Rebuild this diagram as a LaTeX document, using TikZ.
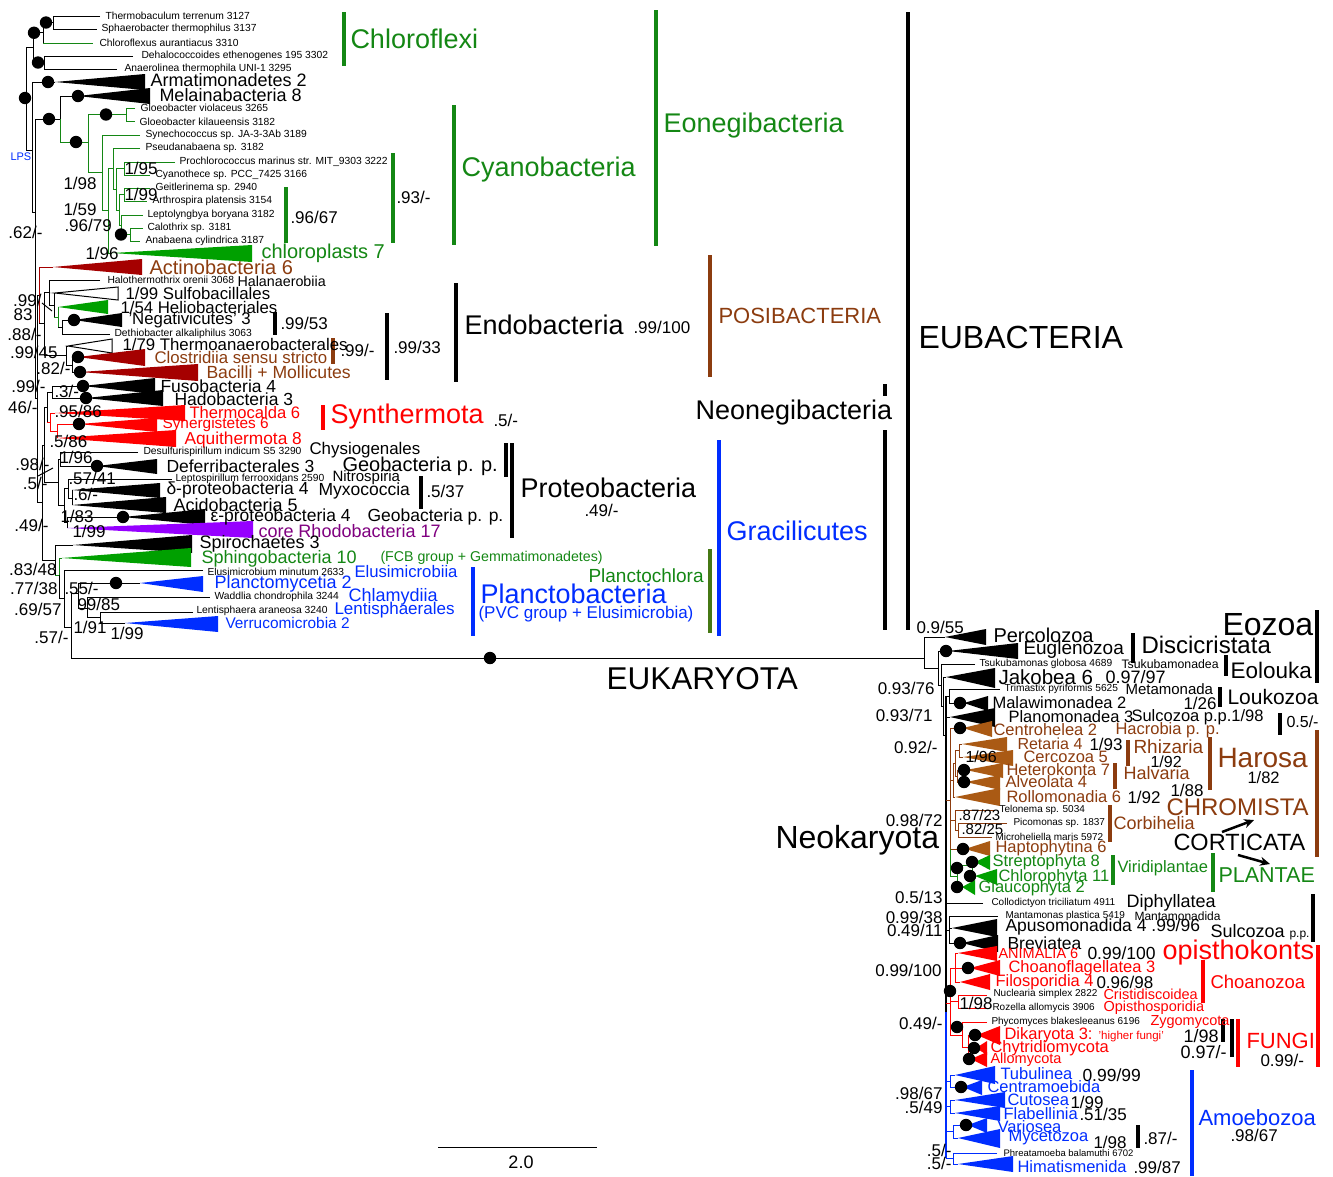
\documentclass[tikz,border=0pt]{standalone}
\usepackage{fontspec}
\setmainfont{Liberation Sans}
\usetikzlibrary{arrows.meta}
\definecolor{grn}{RGB}{20,135,20}
\definecolor{gtri}{RGB}{0,160,0}
\definecolor{brn}{RGB}{140,60,15}
\definecolor{btri}{RGB}{170,90,20}
\definecolor{dred}{RGB}{165,0,0}
\definecolor{rd}{RGB}{255,0,0}
\definecolor{blu}{RGB}{0,45,255}
\definecolor{purt}{RGB}{128,0,128}
\definecolor{purtri}{RGB}{150,0,255}
\definecolor{olv}{RGB}{70,120,20}
\newcommand\tri[6][black]{\fill[#1] (#2,#3) -- (#4,#5) -- (#4,#6) -- cycle;}
\newcommand\dt[2]{\fill (#1,#2) circle (6.2pt);}
\newcommand\lab[4][black]{\node[anchor=west,inner sep=0,text=#1,font=\fontsize{#2}{#2}\selectfont] at #3 {#4};}
\newcommand\rlab[4][black]{\node[anchor=east,inner sep=0,text=#1,font=\fontsize{#2}{#2}\selectfont] at #3 {#4};}
\begin{document}
\begin{tikzpicture}[x=1pt,y=-1pt,line width=1pt,
  gline/.style={draw=grn},
  rline/.style={draw=rd},
  drline/.style={draw=dred},
  bline/.style={draw=blu},
  brline/.style={draw=brn},
  spine/.style={line width=1.8pt},
  bar/.style={line width=3.5pt}]
\useasboundingbox[fill=white] (0,0) rectangle (1333,1176);

% ================= BACTERIA branches =================
\draw (100,16) -- (53,16) -- (53,29) -- (97,29);
\draw (53,22.5) -- (43,22.5) -- (43,43);
\draw[gline] (43,43) -- (93,43);
\draw (43,32.75) -- (33,32.75) -- (33,62.5) -- (44,62.5);
\draw (133,56) -- (44,56) -- (44,69) -- (117,69);
\draw (33,47.6) -- (26,47.6) -- (26,150) -- (32,150);
\draw (55,82) -- (32,82) -- (32,212) -- (35,212);
\draw (60,119) -- (35,119) -- (35,398) -- (37,398);
\draw (78,96) -- (60,96) -- (60,119);
\draw[gline] (60,119) -- (60,142) -- (88,142);
% cyanobacteria
\draw[gline] (126,114.5) -- (88,114.5) -- (88,172) -- (102,172);
\draw[gline] (135,108) -- (126,108) -- (126,121) -- (135,121);
\draw[gline] (140,135) -- (102,135) -- (102,210) -- (108,210);
\draw[gline] (113,168) -- (108,168) -- (108,253) -- (112,253);
\draw[gline] (140,148) -- (113,148) -- (113,189) -- (116,189);
\draw[gline] (124,168.5) -- (116,168.5) -- (116,210) -- (119,210);
\draw[gline] (175,162) -- (124,162) -- (124,175) -- (150,175);
\draw[gline] (124,194.5) -- (119,194.5) -- (119,225) -- (121,225);
\draw[gline] (150,188) -- (124,188) -- (124,201) -- (147,201);
\draw[gline] (143,215) -- (121,215) -- (121,234.5) -- (130,234.5);
\draw[gline] (143,228) -- (130,228) -- (130,241) -- (140,241);
% posibacteria
\draw (39,295) -- (37,295) -- (37,502) -- (42,502);
\draw[drline] (53,267) -- (39,267) -- (39,323);
\draw (39,323) -- (44,323);
\draw (49,292) -- (44,292) -- (44,355) -- (66,355);
\draw (100,280) -- (49,280) -- (49,305) -- (54,305);
\draw (55,293) -- (54,293) -- (54,317);
\draw[gline] (54,317) -- (58,317);
\draw[gline] (58,307) -- (58,327);
\draw (58,327) -- (62,327);
\draw (74,320) -- (62,320) -- (62,334) -- (110,334);
\draw (68,346) -- (66,346) -- (66,365) -- (72,365);
\draw (78,357) -- (72,357) -- (72,372) -- (80,372);
\draw (42,303) -- (52,311);
% neonegibacteria
\draw (44,445) -- (42,445) -- (42,560) -- (55,560);
\draw (47,407) -- (44,407) -- (44,482) -- (58,482);
\draw (52,392) -- (47,392) -- (47,422);
\draw[rline] (47,422) -- (50,422);
\draw (83,386) -- (52,386) -- (52,398) -- (86,398);
\draw[rline] (55,413) -- (50,413) -- (50,431) -- (57,431);
\draw[rline] (79,424) -- (57,424) -- (57,438);
\draw (60,459) -- (58,459) -- (58,505) -- (64,505);
\draw (138,452) -- (60,452) -- (60,466) -- (97,466);
\draw (68,488) -- (64,488) -- (64,522) -- (67,522);
\draw (172,479) -- (68,479) -- (68,498) -- (72,498);
\draw (72,490) -- (72,505);
\draw (123,517) -- (67,517) -- (67,528);
\draw (38,476) -- (53,468);
\draw (73,545) -- (55,545) -- (55,575);
\draw[gline] (55,575) -- (59,575) -- (59,558) -- (62,558);
\draw (59,575) -- (59,598) -- (64,598);
\draw (203,570) -- (64,570) -- (64,627) -- (71,627);
\draw (78,593) -- (71,593) -- (71,658) -- (924,658);
\draw (140,583) -- (78,583) -- (78,608) -- (87,608);
\draw (210,597) -- (87,597) -- (87,617) -- (100,617);
\draw (193,612) -- (100,612) -- (100,623) -- (125,623);

% bacterial triangles
\tri{55}{82}{145}{74}{90}
\tri{78}{96}{150}{88}{104}
\tri[gtri]{112}{253}{252}{245}{262}
\tri[dred]{53}{267}{142}{259}{275}
\filldraw[fill=white,draw=black] (55,293) -- (118,287) -- (118,300) -- cycle;
\tri[gtri]{58}{307}{108}{300}{314}
\tri{74}{320}{122}{313}{327}
\filldraw[fill=white,draw=black] (68,346) -- (112,339) -- (112,353) -- cycle;
\tri[dred]{78}{357}{145}{349}{366}
\tri[dred]{80}{372}{198}{364}{381}
\tri{83}{386}{155}{378}{394}
\tri{86}{398}{163}{390}{406}
\tri[rd]{55}{413}{185}{405}{421}
\tri[rd]{79}{424}{157}{418}{432}
\tri[rd]{57}{438}{176}{430}{447}
\tri{97}{466}{157}{459}{474}
\tri{72}{490}{160}{483}{498}
\tri{72}{505}{166}{497}{513}
\tri{123}{517}{205}{509}{525}
\tri[purtri]{67}{528}{253}{521}{538}
\tri{73}{545}{192}{535}{553}
\tri[gtri]{62}{558}{191}{548}{567}
\tri[blu]{140}{583}{203}{576}{592}
\tri[blu]{125}{623}{218}{616}{632}

% bacterial dots
\dt{46}{22.5}\dt{34}{32.75}\dt{38}{62.5}\dt{25}{98}\dt{48}{82}\dt{78}{96}
\dt{49}{119}\dt{76}{142}\dt{106}{114.5}\dt{121}{234.5}\dt{74}{320}
\dt{78}{357}\dt{80}{372}\dt{83}{386}\dt{86}{398}\dt{79}{424}\dt{97}{466}
\dt{123}{517}\dt{116}{583}\dt{490}{658}

% ================= EUKARYOTA branches =================
\draw (945,637) -- (924,637) -- (924,668) -- (938,668);
\draw (946,651) -- (938,651) -- (938,685) -- (941,685);
\draw (975,664) -- (941,664) -- (941,706) -- (943,706);
\draw (946,677) -- (943,677) -- (943,735) -- (946,735);
\draw (949,696) -- (946,696);
\draw[spine] (946,696) -- (946,1012);
\draw[spine,bline] (946,1012) -- (946,1158);
\draw (1000,689) -- (949,689) -- (949,703) -- (964,703);
\draw (950,717) -- (946,717);
\draw[brline] (946,800) -- (950,800);
\draw[brline] (960,728) -- (950,728) -- (950,849) -- (963,849);
\draw[gline] (950,849) -- (950,876) -- (957,876);
\draw[brline] (950,780) -- (953,780);
\draw[brline] (955,763) -- (953,763) -- (953,797) -- (955,797);
\draw[brline] (959,750) -- (955,750) -- (955,776) -- (957,776);
\draw[brline] (962,744) -- (959,744) -- (959,757) -- (963,757);
\draw[brline] (966,770) -- (957,770) -- (957,782) -- (966,782);
\draw[brline] (950,820) -- (955,820);
\draw[brline] (995,810) -- (955,810) -- (955,830) -- (958,830);
\draw[brline] (1007,823) -- (958,823) -- (958,837) -- (992,837);
\draw[gline] (972,865) -- (957,865) -- (957,887) -- (962,887);
\draw[gline] (975,862) -- (972,862) -- (972,876) -- (975,876);
\draw (983,903) -- (946,903);
\draw (949,930) -- (946,930);
\draw (998,916) -- (949,916) -- (949,943) -- (962,943);
\draw (952,928) -- (949,928);
\draw[rline] (946,1003) -- (950,1003);
\draw[rline] (955,968) -- (950,968) -- (950,1035) -- (962,1035);
\draw[rline] (958,953) -- (955,953) -- (955,982) -- (960,982);
\draw[rline] (970,968) -- (955,968);
\draw[rline] (950,1001) -- (958,1001);
\draw[rline] (987,995) -- (958,995) -- (958,1008) -- (987,1008);
\draw[rline] (987,1022) -- (962,1022) -- (962,1047) -- (968,1047);
\draw[rline] (977,1035) -- (968,1035) -- (968,1059) -- (971,1059);
\draw[rline] (968,1048) -- (976,1048);
\draw[bline] (955,1075) -- (950,1075) -- (950,1087) -- (963,1087);
\draw[bline] (946,1081) -- (950,1081);
\draw[bline] (955,1100) -- (950,1100) -- (950,1113) -- (955,1113);
\draw[bline] (946,1106) -- (950,1106);
\draw[bline] (968,1125) -- (953,1125) -- (953,1138) -- (958,1138);
\draw[bline] (946,1131) -- (953,1131);
\draw[bline] (997,1153) -- (953,1153) -- (953,1164) -- (958,1164);
\draw[bline] (946,1158) -- (953,1158);

% eukaryote triangles
\tri{945}{637}{986}{629}{645}
\tri{948}{651}{1018}{643}{659}
\tri{946}{677}{995}{668}{688}
\tri{964}{703}{988}{696}{711}
\tri{950}{717}{995}{708}{727}
\tri[btri]{963}{728}{992}{721}{737}
\tri[btri]{962}{744}{1007}{737}{752}
\tri[btri]{963}{757}{1013}{750}{766}
\tri[btri]{966}{770}{1003}{763}{778}
\tri[btri]{966}{782}{1000}{775}{790}
\tri[btri]{955}{797}{1000}{788}{806}
\tri[btri]{965}{849}{990}{841}{856}
\tri[gtri]{975}{862}{990}{855}{870}
\tri[gtri]{975}{876}{997}{869}{885}
\tri[gtri]{962}{887}{975}{880}{895}
\tri{952}{928}{997}{919}{937}
\tri{962}{943}{998}{935}{952}
\tri[rd]{958}{953}{997}{946}{961}
\tri[rd]{970}{968}{1000}{960}{976}
\tri[rd]{960}{982}{990}{974}{990}
\tri[rd]{977}{1035}{1000}{1026}{1045}
\tri[rd]{976}{1048}{987}{1041}{1055}
\tri[rd]{971}{1059}{987}{1052}{1067}
\tri[blu]{955}{1075}{995}{1066}{1084}
\tri[blu]{963}{1087}{982}{1080}{1095}
\tri[blu]{955}{1100}{1005}{1092}{1108}
\tri[blu]{955}{1113}{1000}{1106}{1121}
\tri[blu]{968}{1125}{987}{1118}{1133}
\tri[blu]{958}{1138}{1000}{1129}{1148}
\tri[blu]{958}{1164}{1013}{1156}{1172}

% eukaryote dots
\dt{946}{651}\dt{960}{703}\dt{960}{728}\dt{964}{770}\dt{964}{782}\dt{963}{849}
\dt{957}{868}\dt{972}{862}\dt{970}{876}\dt{957}{887}\dt{960}{943}\dt{968}{968}
\dt{950}{991}\dt{957}{1027}\dt{975}{1035}\dt{974}{1048}\dt{969}{1059}
\dt{961}{1087}\dt{966}{1125}

% ================= bars =================
\draw[bar,grn] (344,12) -- (344,66);
\draw[bar,grn] (286,187) -- (286,243);
\draw[bar,grn] (393,153) -- (393,243);
\draw[bar,grn] (454,105) -- (454,245);
\draw[bar,grn] (656,10) -- (656,246);
\draw[bar] (275,312) -- (275,335);
\draw[bar,brn] (333,338) -- (333,364);
\draw[bar] (387,313) -- (387,380);
\draw[bar] (456,283) -- (456,382);
\draw[bar,brn] (710,255) -- (710,377);
\draw[bar,rd] (323,405) -- (323,430);
\draw[bar] (506,443) -- (506,477);
\draw[bar] (512,443) -- (512,538);
\draw[bar] (421,476) -- (421,509);
\draw[bar,blu] (473,567) -- (473,636);
\draw[bar,olv] (710,549) -- (710,633);
\draw[bar,blu] (719,440) -- (719,636);
\draw[bar] (885,384) -- (885,396);
\draw[bar] (885,430) -- (885,630);
\draw[bar] (908,12) -- (908,630);
\draw[bar] (1133,633) -- (1133,663);
\draw[bar] (1226,655) -- (1226,676);
\draw[bar] (1317,610) -- (1317,683);
\draw[bar] (1220,687) -- (1220,707);
\draw[bar] (1280,713) -- (1280,735);
\draw[bar,brn] (1128,740) -- (1128,766);
\draw[bar,brn] (1115,763) -- (1115,789);
\draw[bar,brn] (1210,737) -- (1210,790);
\draw[bar,brn] (1317,730) -- (1317,857);
\draw[bar,brn] (1110,805) -- (1110,842);
\draw[bar,grn] (1113,855) -- (1113,885);
\draw[bar,grn] (1213,853) -- (1213,892);
\draw[bar] (1313,894) -- (1313,942);
\draw[bar,rd] (1318,945) -- (1318,1067);
\draw[bar,rd] (1203,960) -- (1203,1003);
\draw[bar] (1223,1019) -- (1223,1042);
\draw[bar] (1232,1019) -- (1232,1057);
\draw[bar,rd] (1238,1019) -- (1238,1067);
\draw[bar,blu] (1192,1070) -- (1192,1176);
\draw[bar] (1138,1125) -- (1138,1148);
\draw[line width=2.5pt,-{Stealth[length=10pt,width=9pt]}] (1222,832) -- (1254,820);
\draw[line width=2.5pt,-{Stealth[length=10pt,width=9pt]}] (1238,855) -- (1270,864);
% scale bar
\draw (438,1147) -- (597,1147);
\node[inner sep=0,font=\fontsize{18}{18}\selectfont] at (521,1162) {2.0};

% ================= bacterial labels =================
\lab{10.3}{(105,16)}{Thermobaculum terrenum 3127}
\lab{10.3}{(101,29)}{Sphaerobacter thermophilus 3137}
\lab{10.3}{(99,43)}{Chloroflexus aurantiacus 3310}
\lab{10.3}{(141,56)}{Dehalococcoides ethenogenes 195 3302}
\lab{10.3}{(124,69)}{Anaerolinea thermophila UNI-1 3295}
\lab{18}{(150,80)}{Armatimonadetes 2}
\lab{18}{(159,95)}{Melainabacteria 8}
\lab{10.3}{(140,108)}{Gloeobacter violaceus 3265}
\lab{10.3}{(139,122)}{Gloeobacter kilaueensis 3182}
\lab{10.3}{(145,135)}{Synechococcus sp. JA-3-3Ab 3189}
\lab{10.3}{(145,148)}{Pseudanabaena sp. 3182}
\lab{10.3}{(179,162)}{Prochlorococcus marinus str. MIT\_9303 3222}
\lab{10.3}{(155,175)}{Cyanothece sp. PCC\_7425 3166}
\lab{10.3}{(155,188)}{Geitlerinema sp. 2940}
\lab{10.3}{(152,201)}{Arthrospira platensis 3154}
\lab{10.3}{(147,215)}{Leptolyngbya boryana 3182}
\lab{10.3}{(147,228)}{Calothrix sp. 3181}
\lab{10.3}{(145,241)}{Anabaena cylindrica 3187}
\lab[grn]{20}{(261,253)}{chloroplasts 7}
\lab[brn]{20}{(149,267)}{Actinobacteria 6}
\lab{10.3}{(107,280)}{Halothermothrix orenii 3068}
\lab{14.3}{(237,281)}{Halanaerobiia}
\lab{16.8}{(125,293)}{1/99 Sulfobacillales}
\lab{16.8}{(120,307)}{1/54 Heliobacteriales}
\lab{16.8}{(128,320)}{'Negativicutes' 3}
\lab{10.3}{(114,334)}{Dethiobacter alkaliphilus 3063}
\lab{16.8}{(122,344)}{1/79 Thermoanaerobacterales}
\lab[brn]{16.8}{(154,357)}{Clostridiia sensu stricto}
\lab[brn]{17.6}{(206,372)}{Bacilli + Mollicutes}
\lab{17.5}{(160,386)}{Fusobacteria 4}
\lab{17.5}{(174,399)}{Hadobacteria 3}
\lab[rd]{16.6}{(189,413)}{Thermocalda 6}
\lab[rd]{15.4}{(162,425)}{Synergistetes 6}
\lab[rd]{17.3}{(184,440)}{Aquithermota 8}
\lab{10.3}{(143,452)}{Desulfurispirillum indicum S5 3290}
\lab{16.9}{(309,450)}{Chysiogenales}
\lab{17.5}{(166,466)}{Deferribacterales 3}
\lab{20}{(342,466)}{Geobacteria p. p.}
\lab{10.3}{(175,479)}{Leptospirillum ferrooxidans 2590}
\lab{15}{(332,478)}{Nitrospiria}
\lab{17.5}{(166,490)}{δ-proteobacteria 4}
\lab{17.5}{(318,491)}{Myxococcia}
\lab{18}{(173,505)}{Acidobacteria 5}
\lab{17.5}{(210,517)}{ε-proteobacteria 4}
\lab{17.5}{(367,517)}{Geobacteria p. p.}
\lab[purt]{18}{(258,531)}{core Rhodobacteria 17}
\lab{18}{(199,544)}{Spirochaetes 3}
\lab[grn]{18}{(201,559)}{Sphingobacteria 10}
\lab[grn]{14.2}{(380,558)}{(FCB group + Gemmatimonadetes)}
\lab{10.2}{(207,572)}{Elusimicrobium minutum 2633}
\lab[blu]{16.7}{(354,572)}{Elusimicrobiia}
\lab[blu]{18}{(214,584)}{Planctomycetia 2}
\lab{10.3}{(214,597)}{Waddlia chondrophila 3244}
\lab[blu]{18}{(348,597)}{Chlamydiia}
\lab{10.3}{(196,611)}{Lentisphaera araneosa 3240}
\lab[blu]{17}{(334,610)}{Lentisphaerales}
\lab[blu]{15.4}{(225,623)}{Verrucomicrobia 2}
\lab[blu]{11}{(10,157)}{LPS}
% support values (bacteria)
\lab{17}{(63,183)}{1/98}
\lab{17}{(63,209)}{1/59}
\lab{17}{(64,225)}{.96/79}
\lab{17}{(124,168)}{1/95}
\lab{17}{(124,194)}{1/99}
\lab{17}{(85,253)}{1/96}
\rlab{17}{(43,232)}{.62/-}
\rlab{17}{(42,300)}{.99/}
\rlab{17}{(33,315)}{83}
\rlab{17}{(42,334)}{.88/-}
\rlab{17}{(58,352)}{.99/45}
\rlab{17}{(71,368)}{.82/-}
\rlab{17}{(46,386)}{.99/-}
\lab{17}{(54,391)}{.3/-}
\rlab{17}{(38,407)}{46/-}
\lab{17}{(54,411)}{.95/86}
\lab{17}{(49,441)}{.5/86}
\lab{17}{(59,457)}{1/96}
\rlab{17}{(50,464)}{.98/-}
\rlab{17}{(48,483)}{.5/-}
\lab{17}{(68,478)}{.57/41}
\lab{17}{(73,494)}{.6/-}
\lab{17}{(60,516)}{1/83}
\lab{17}{(72,531)}{1/99}
\rlab{17}{(49,525)}{.49/-}
\rlab{17}{(57,569)}{.83/48}
\rlab{17}{(58,588)}{.77/38}
\rlab{17}{(62,609)}{.69/57}
\rlab{17}{(69,637)}{.57/-}
\lab{17}{(64,588)}{.55/-}
\lab{17}{(77,604)}{99/85}
\lab{17}{(73,627)}{1/91}
\lab{17}{(110,633)}{1/99}
% group labels (bacteria)
\lab[grn]{27}{(350,39)}{Chloroflexi}
\lab[grn]{27}{(663,126)}{Eonegibacteria}
\lab[grn]{27}{(461,170)}{Cyanobacteria}
\lab{17}{(396,197)}{.93/-}
\lab{17}{(290,217)}{.96/67}
\lab{17}{(280,323)}{.99/53}
\lab{17}{(340,350)}{.99/-}
\lab{17}{(393,347)}{.99/33}
\lab{27}{(464,325)}{Endobacteria}
\lab{17}{(633,327)}{.99/100}
\lab[brn]{22}{(718,316)}{POSIBACTERIA}
\lab{32}{(918,337)}{EUBACTERIA}
\lab[rd]{27}{(330,417)}{Synthermota}
\lab{17}{(493,420)}{.5/-}
\lab{27}{(695,413)}{Neonegibacteria}
\lab{17}{(426,491)}{.5/37}
\lab{27}{(520,488)}{Proteobacteria}
\lab{17}{(584,510)}{.49/-}
\lab[blu]{27}{(726,531)}{Gracilicutes}
\lab[grn]{19}{(588,576)}{Planctochlora}
\lab[blu]{27}{(480,594)}{Planctobacteria}
\lab[blu]{17}{(478,614)}{(PVC group + Elusimicrobia)}
\lab{31.5}{(606,679)}{EUKARYOTA}
\lab{32}{(775,840)}{Neokaryota}

% ================= eukaryote labels =================
\lab{17}{(916,627)}{0.9/55}
\lab{20}{(993,635)}{Percolozoa}
\lab{19}{(1023,650)}{Euglenozoa}
\lab{24}{(1141,645)}{Discicristata}
\lab{32}{(1222,625)}{Eozoa}
\lab{10.2}{(979,664)}{Tsukubamonas globosa 4689}
\lab{12.3}{(1121,664)}{Tsukubamonadea}
\lab{22.5}{(1230,670)}{Eolouka}
\lab{20.5}{(998,677)}{Jakobea 6}
\lab{18}{(1105,677)}{0.97/97}
\rlab{17}{(935,688)}{0.93/76}
\lab{10.2}{(1004,689)}{Trimastix pyriformis 5625}
\lab{15}{(1125,689)}{Metamonada}
\lab{21}{(1227,697)}{Loukozoa}
\lab{16.5}{(992,703)}{Malawimonadea 2}
\lab{17}{(1183,703)}{1/26}
\rlab{17}{(933,715)}{0.93/71}
\lab{16.5}{(1008,717)}{Planomonadea 3}
\lab{16.5}{(1131,717)}{Sulcozoa p.p.1/98}
\lab{16}{(1286,722)}{0.5/-}
\lab[brn]{16.5}{(993,730)}{Centrohelea 2}
\lab[brn]{16.5}{(1115,730)}{Hacrobia p. p.}
\rlab{17}{(938,747)}{0.92/-}
\lab[brn]{16}{(1017,744)}{Retaria 4}
\lab{17}{(1089,744)}{1/93}
\lab[brn]{19}{(1133,747)}{Rhizaria}
\lab{16}{(1150,762)}{1/92}
\lab[brn]{16.5}{(1023,757)}{Cercozoa 5}
\lab{16}{(965,757)}{1/96}
\lab[brn]{28}{(1217,758)}{Harosa}
\lab{16.5}{(1247,778)}{1/82}
\lab[brn]{16.5}{(1006,770)}{Heterokonta 7}
\lab[brn]{18}{(1123,773)}{Halvaria}
\lab[brn]{16.5}{(1005,782)}{Alveolata 4}
\lab{17}{(1170,790)}{1/88}
\lab[brn]{16.5}{(1006,797)}{Rollomonadia 6}
\lab{17}{(1127,797)}{1/92}
\lab[brn]{24}{(1166,807)}{CHROMISTA}
\lab{10}{(999,810)}{Telonema sp. 5034}
\lab{15}{(958,815)}{.87/23}
\lab{10}{(1013,823)}{Picomonas sp. 1837}
\lab{15}{(961,829)}{.82/25}
\lab{10}{(995,837)}{Microheliella maris 5972}
\lab[brn]{18}{(1113,823)}{Corbihelia}
\rlab{17}{(943,820)}{0.98/72}
\lab{23.5}{(1173,842)}{CORTICATA}
\lab[brn]{16.5}{(995,848)}{Haptophytina 6}
\lab[grn]{16.5}{(992,862)}{Streptophyta 8}
\lab[grn]{16.5}{(998,877)}{Chlorophyta 11}
\lab[grn]{16.5}{(978,888)}{Glaucophyta 2}
\lab[grn]{16.5}{(1117,868)}{Viridiplantae}
\lab[grn]{21.5}{(1218,875)}{PLANTAE}
\rlab{17}{(943,897)}{0.5/13}
\lab{10}{(991,903)}{Collodictyon triciliatum 4911}
\lab{18}{(1126,903)}{Diphyllatea}
\rlab{17}{(943,917)}{0.99/38}
\rlab{17}{(943,930)}{0.49/11}
\lab{10}{(1005,916)}{Mantamonas plastica 5419}
\lab{12}{(1134,916)}{Mantamonadida}
\lab{17.5}{(1005,927)}{Apusomonadida 4 .99/96}
\node[anchor=west,inner sep=0,font=\fontsize{18}{18}\selectfont] at (1210,932) {Sulcozoa \fontsize{12}{12}\selectfont p.p.};
\lab{17.5}{(1007,943)}{Breviatea}
\lab[rd]{14.5}{(998,953)}{ANIMALIA 6}
\lab{17.5}{(1087,953)}{0.99/100}
\lab[rd]{27}{(1162,953)}{opisthokonts}
\rlab{17}{(942,970)}{0.99/100}
\lab[rd]{16.5}{(1008,968)}{Choanoflagellatea 3}
\lab[rd]{16.5}{(995,982)}{Filosporidia 4}
\lab{17}{(1096,982)}{0.96/98}
\lab[rd]{18.5}{(1210,982)}{Choanozoa}
\lab{10}{(993,994)}{Nuclearia simplex 2822}
\lab[rd]{14.5}{(1103,994)}{Cristidiscoidea}
\lab{17}{(959,1003)}{1/98}
\lab{10}{(992,1008)}{Rozella allomycis 3906}
\lab[rd]{14.5}{(1103,1008)}{Opisthosporidia}
\lab{10}{(991,1022)}{Phycomyces blakesleeanus 6196}
\lab[rd]{14.5}{(1150,1022)}{Zygomycota}
\rlab{17}{(943,1023)}{0.49/-}
\node[anchor=west,inner sep=0,text=rd,font=\fontsize{16.5}{16.5}\selectfont] at (1004,1035) {Dikaryota 3: \fontsize{11.5}{11.5}\selectfont 'higher fungi'};
\lab{18}{(1183,1036)}{1/98}
\lab{18}{(1180,1052)}{0.97/-}
\lab[rd]{22}{(1246,1041)}{FUNGI}
\lab{17}{(1260,1060)}{0.99/-}
\lab[rd]{16.5}{(990,1048)}{Chytridiomycota}
\lab[rd]{14.5}{(990,1060)}{Allomycota}
\lab[blu]{16.5}{(1000,1074)}{Tubulinea}
\lab{17.5}{(1082,1075)}{0.99/99}
\lab[blu]{16.5}{(987,1087)}{Centramoebida}
\rlab{17}{(943,1093)}{.98/67}
\rlab{17}{(943,1107)}{.5/49}
\lab[blu]{16.5}{(1007,1100)}{Cutosea}
\lab{17}{(1070,1102)}{1/99}
\lab[blu]{16.5}{(1003,1114)}{Flabellinia}
\lab{17}{(1079,1114)}{.51/35}
\lab[blu]{22}{(1198,1118)}{Amoebozoa}
\lab{17}{(1230,1135)}{.98/67}
\lab[blu]{16.5}{(997,1127)}{Variosea}
\lab[blu]{16.5}{(1008,1138)}{Mycetozoa}
\lab{17}{(1093,1142)}{1/98}
\lab{17}{(1143,1138)}{.87/-}
\rlab{17}{(952,1150)}{.5/-}
\rlab{17}{(952,1163)}{.5/-}
\lab{9.5}{(1003,1153)}{Phreatamoeba balamuthi 6702}
\lab[blu]{16.5}{(1017,1167)}{Himatismenida}
\lab{17}{(1133,1167)}{.99/87}
\end{tikzpicture}
\end{document}
